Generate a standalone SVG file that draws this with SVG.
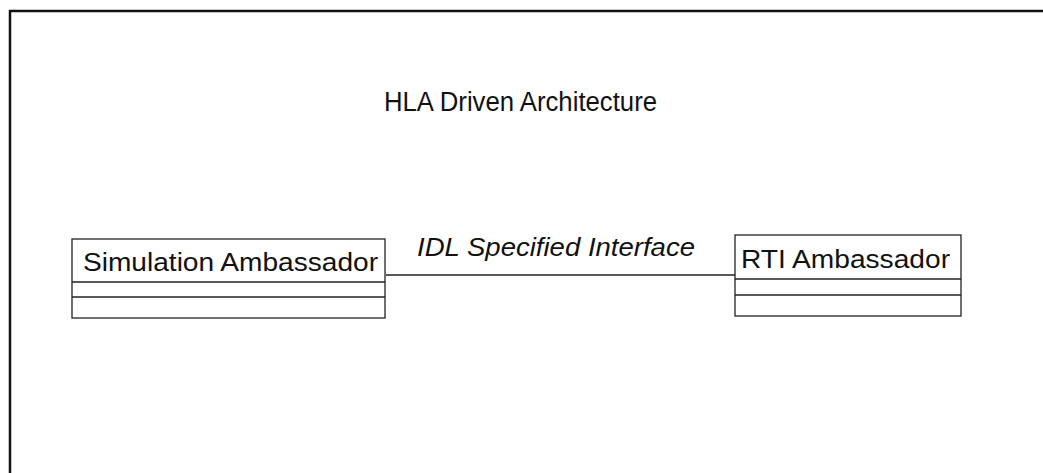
<svg xmlns="http://www.w3.org/2000/svg" width="1043" height="473" viewBox="0 0 1043 473">
<style>
.frame{fill:none;stroke:#111;stroke-width:2.5}
.box{fill:#fff;stroke:#222;stroke-width:1.3}
.sep{stroke:#222;stroke-width:1.3}
.lbl{font-family:"Liberation Sans",Arial,sans-serif;font-size:25px;fill:#111}
.title{font-family:"Liberation Sans",Arial,sans-serif;font-size:27px;fill:#111}
.conn{stroke:#222;stroke-width:1.3;fill:none}
.it{font-family:"Liberation Sans",Arial,sans-serif;font-size:25px;font-style:italic;fill:#111}
</style>
<rect width="1043" height="473" fill="#fff"/>
<path class="frame" d="M10,473 V11 H1043"/>
<text class="title" x="384" y="111" textLength="273" lengthAdjust="spacingAndGlyphs">HLA Driven Architecture</text>
<g id="connectors">
<line class="conn" x1="386" y1="275" x2="735" y2="275"/>
<text class="it" x="417" y="256" textLength="278" lengthAdjust="spacingAndGlyphs">IDL Specified Interface</text>
</g>
<g id="simulation-ambassador">
<rect class="box" x="72" y="239" width="313" height="79"/>
<line class="sep" x1="72" y1="282" x2="385" y2="282"/>
<line class="sep" x1="72" y1="297" x2="385" y2="297"/>
<text class="lbl" x="83" y="271" textLength="295" lengthAdjust="spacingAndGlyphs">Simulation Ambassador</text>
</g>
<g id="rti-ambassador">
<rect class="box" x="735" y="235" width="226" height="81"/>
<line class="sep" x1="735" y1="279" x2="961" y2="279"/>
<line class="sep" x1="735" y1="295" x2="961" y2="295"/>
<text class="lbl" x="741" y="268" textLength="209" lengthAdjust="spacingAndGlyphs">RTI Ambassador</text>
</g>
</svg>
